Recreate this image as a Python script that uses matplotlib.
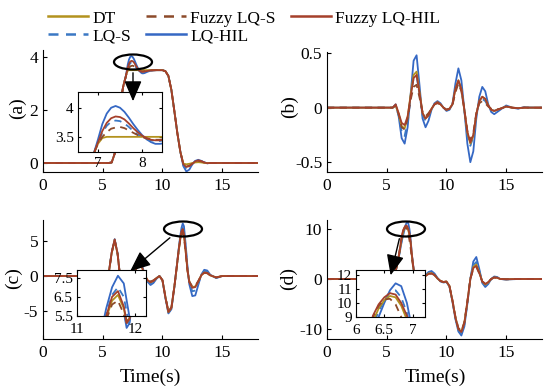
import numpy as np
import matplotlib.pyplot as plt
from matplotlib.patches import Ellipse, FancyArrowPatch
from matplotlib.lines import Line2D

plt.rcParams['font.family'] = ['Liberation Serif', 'DejaVu Serif']
plt.rcParams['axes.unicode_minus'] = False

# ---------------- data ----------------
# (a)
ta = [0, 5.5, 5.75, 6.0, 6.25, 6.5, 6.7, 6.8, 6.9, 7.0, 7.1, 7.2, 7.3, 7.4, 7.5, 7.6,
      7.7, 7.8, 7.9, 8.0, 8.1, 8.2, 8.3, 8.4, 8.5, 8.75, 9.0, 9.5, 10.0, 10.25, 10.5,
      10.75, 11.0, 11.25, 11.5, 11.75, 12.0, 12.25, 12.5, 12.75, 13.0, 13.25, 13.5,
      13.75, 14.0, 15.0, 18.0]
a_lqhil = [0, 0, 0.02, 0.35, 1.25, 2.3, 2.85, 3.05, 3.2,
           3.45, 3.72, 3.9, 4.0, 4.03, 4.0, 3.93, 3.83, 3.72, 3.62, 3.53, 3.46, 3.41, 3.38, 3.38, 3.39,
           3.44, 3.48, 3.5, 3.5, 3.46, 3.28, 2.75, 1.95, 1.12, 0.42, -0.12, -0.32, -0.25, -0.05,
           0.08, 0.12, 0.08, 0.02, -0.01, 0, 0, 0]
a_fhil = [0, 0, 0.02, 0.35, 1.25, 2.3, 2.85, 3.05, 3.2,
          3.4, 3.6, 3.74, 3.82, 3.85, 3.84, 3.8, 3.73, 3.65, 3.58, 3.52, 3.48, 3.45, 3.44, 3.44, 3.45,
          3.47, 3.49, 3.5, 3.5, 3.46, 3.28, 2.75, 1.95, 1.12, 0.42, -0.05, -0.15, -0.12, -0.03,
          0.06, 0.1, 0.07, 0.02, -0.01, 0, 0, 0]
a_lqs = [0, 0, 0.02, 0.35, 1.25, 2.3, 2.85, 3.05, 3.2,
         3.4, 3.57, 3.69, 3.76, 3.78, 3.77, 3.73, 3.67, 3.6, 3.54, 3.5, 3.46, 3.44, 3.43, 3.43, 3.44,
         3.47, 3.49, 3.5, 3.5, 3.46, 3.28, 2.75, 1.95, 1.12, 0.42, -0.08, -0.22, -0.18, -0.04,
         0.07, 0.11, 0.07, 0.02, -0.01, 0, 0, 0]
a_fs = [0, 0, 0.02, 0.35, 1.25, 2.3, 2.85, 3.05, 3.2,
        3.38, 3.5, 3.58, 3.64, 3.66, 3.67, 3.65, 3.61, 3.57, 3.53, 3.5, 3.47, 3.46, 3.45, 3.45, 3.46,
        3.47, 3.49, 3.5, 3.5, 3.46, 3.28, 2.75, 1.95, 1.12, 0.42, -0.05, -0.13, -0.1, -0.03,
        0.05, 0.08, 0.06, 0.02, -0.01, 0, 0, 0]
a_dt = [0, 0, 0.02, 0.35, 1.25, 2.3, 2.85, 3.05, 3.2,
        3.38, 3.48, 3.5, 3.5, 3.5, 3.5, 3.5, 3.5, 3.5, 3.5, 3.5, 3.5, 3.5, 3.5, 3.5, 3.5,
        3.5, 3.5, 3.5, 3.5, 3.46, 3.28, 2.75, 1.95, 1.12, 0.42, -0.02, -0.05, -0.03, 0.0,
        0.02, 0.03, 0.02, 0.0, 0, 0, 0, 0]

# (b)
tb = [0, 5.5, 5.75, 6.0, 6.25, 6.5, 6.75, 7.0, 7.25, 7.5, 7.75, 8.0, 8.25, 8.5, 8.75,
      9.0, 9.25, 9.5, 9.75, 10.0, 10.25, 10.5, 10.75, 11.0, 11.25, 11.5, 11.75, 12.0,
      12.25, 12.5, 12.75, 13.0, 13.25, 13.5, 13.75, 14.0, 14.5, 15.0, 15.5, 16.0, 16.5,
      17.0, 18.0]
b_lqhil = [0, 0, 0.03, -0.08, -0.28, -0.33, -0.18, 0.12, 0.43, 0.48, 0.2, -0.1, -0.18, -0.12,
           -0.02, 0.04, 0.06, 0.04, 0.0, -0.03, -0.02, 0.03, 0.22, 0.36, 0.25, -0.02, -0.33,
           -0.5, -0.4, -0.1, 0.1, 0.19, 0.15, 0.03, -0.04, -0.06, -0.02, 0.02, 0.0, -0.01,
           0.005, 0, 0]
b_fhil = [0, 0, 0.03, -0.05, -0.14, -0.16, -0.08, 0.1, 0.27, 0.3, 0.13, -0.05, -0.1, -0.07,
          -0.01, 0.03, 0.05, 0.03, 0.0, -0.02, -0.01, 0.03, 0.17, 0.25, 0.17, -0.02, -0.22,
          -0.32, -0.25, -0.06, 0.06, 0.1, 0.08, 0.02, -0.02, -0.03, -0.01, 0.01, 0.0, -0.005,
          0.0, 0, 0]
b_dt = [0, 0, 0.02, -0.06, -0.17, -0.19, -0.09, 0.12, 0.3, 0.33, 0.14, -0.05, -0.1, -0.07,
        -0.01, 0.03, 0.05, 0.03, 0.0, -0.02, -0.01, 0.03, 0.17, 0.25, 0.17, -0.02, -0.23,
        -0.33, -0.26, -0.06, 0.06, 0.1, 0.08, 0.02, -0.02, -0.03, -0.01, 0.01, 0.0, -0.005,
        0.0, 0, 0]
b_lqs = [0, 0, 0.02, -0.07, -0.22, -0.26, -0.13, 0.1, 0.27, 0.29, 0.12, -0.07, -0.12, -0.08,
         -0.01, 0.03, 0.05, 0.03, 0.0, -0.02, -0.01, 0.03, 0.16, 0.24, 0.16, -0.03, -0.25,
         -0.35, -0.27, -0.06, 0.05, 0.08, 0.06, 0.01, -0.02, -0.03, -0.01, 0.01, 0.0, -0.005,
         0.0, 0, 0]
b_fs = [0, 0, 0.02, -0.06, -0.18, -0.2, -0.1, 0.07, 0.19, 0.21, 0.09, -0.04, -0.08, -0.05,
        -0.01, 0.03, 0.04, 0.03, 0.0, -0.02, -0.01, 0.02, 0.14, 0.22, 0.15, -0.02, -0.21,
        -0.3, -0.23, -0.05, 0.04, 0.06, 0.04, 0.01, -0.01, -0.02, -0.01, 0.01, 0.0, -0.005,
        0.0, 0, 0]

# (c)
tc = [0, 5.25, 5.5, 5.75, 6.0, 6.25, 6.5, 6.75, 7.0, 7.25, 7.5, 7.75, 8.0, 8.25, 8.5,
      8.75, 9.0, 9.25, 9.5, 9.75, 10.0, 10.25, 10.5, 10.75, 11.0, 11.2, 11.3, 11.4, 11.5,
      11.6, 11.7, 11.8, 11.9, 12.0, 12.1, 12.25, 12.5, 12.75, 13.0, 13.25, 13.5, 13.75,
      14.0, 14.5, 15.0, 16.0, 18.0]
c_lqhil = [0, 0, 0.4, 3.4, 5.3, 3.2, -1.0, -5.0, -7.5, -6.8, -3.0, 1.0, 2.6, 1.8, 0.3, -0.8,
           -1.3, -1.0, -0.4, 0.0, -0.6, -3.2, -5.4, -4.8, -1.6, 1.4, 3.0, 4.5, 5.9, 7.0, 7.6,
           7.2, 5.4, 3.4, 1.2, -1.2, -2.9, -2.8, -1.3, 0.2, 0.9, 0.8, 0.2, -0.3, 0.0, 0, 0]
c_fhil = [0, 0, 0.4, 3.4, 5.3, 3.2, -0.9, -4.6, -6.8, -6.2, -2.8, 0.8, 2.2, 1.5, 0.2, -0.6,
          -0.9, -0.7, -0.3, 0.0, -0.6, -3.1, -5.2, -4.6, -1.5, 1.4, 2.9, 4.3, 5.5, 6.5, 6.8,
          6.0, 4.4, 2.6, 0.8, -0.9, -1.7, -1.6, -0.8, 0.1, 0.5, 0.45, 0.1, -0.2, 0.0, 0, 0]
c_lqs = [0, 0, 0.4, 3.4, 5.3, 3.2, -0.9, -4.8, -7.1, -6.5, -2.9, 0.9, 2.4, 1.6, 0.2, -0.7,
         -1.1, -0.8, -0.3, 0.0, -0.6, -3.1, -5.3, -4.7, -1.5, 1.4, 2.9, 4.4, 5.6, 6.6, 7.0,
         6.5, 4.9, 3.0, 1.0, -1.0, -2.2, -2.1, -1.0, 0.1, 0.7, 0.6, 0.15, -0.25, 0.0, 0, 0]
c_fs = [0, 0, 0.4, 3.3, 5.2, 3.1, -0.8, -4.4, -6.5, -5.9, -2.6, 0.7, 2.0, 1.4, 0.2, -0.5,
        -0.8, -0.6, -0.3, 0.0, -0.6, -3.0, -5.1, -4.5, -1.5, 1.3, 2.8, 4.1, 5.3, 6.1, 6.3,
        5.6, 4.1, 2.4, 0.7, -0.8, -1.5, -1.4, -0.7, 0.1, 0.45, 0.4, 0.1, -0.2, 0.0, 0, 0]
c_dt = [0, 0, 0.4, 3.3, 5.2, 3.1, -0.8, -4.5, -6.7, -6.0, -2.7, 0.8, 2.1, 1.4, 0.2, -0.6,
        -0.9, -0.7, -0.3, 0.0, -0.6, -3.0, -5.2, -4.6, -1.5, 1.3, 2.8, 4.2, 5.4, 6.3, 6.6,
        5.9, 4.3, 2.5, 0.8, -0.8, -1.6, -1.5, -0.8, 0.1, 0.5, 0.45, 0.1, -0.2, 0.0, 0, 0]

# (d)
td = [0, 5.25, 5.5, 5.75, 6.0, 6.1, 6.2, 6.3, 6.4, 6.5, 6.6, 6.7, 6.8, 6.9, 7.0, 7.1,
      7.25, 7.5, 7.75, 8.0, 8.25, 8.5, 8.75, 9.0, 9.25, 9.5, 9.75, 10.0, 10.25, 10.5,
      10.75, 11.0, 11.25, 11.5, 11.75, 12.0, 12.25, 12.5, 12.75, 13.0, 13.25, 13.5,
      13.75, 14.0, 14.25, 14.5, 15.0, 16.0, 18.0]
d_lqhil = [0, 0, 0.3, 1.5, 4.2, 5.5, 6.8, 8.0, 9.0, 10.0, 10.9, 11.4, 11.2, 10.0, 8.0, 5.0,
           2.0, -0.5, -0.8, 0.0, 0.8, 1.4, 1.6, 1.1, 0.2, -0.5, -0.7, -0.6, -1.5, -4.5, -8.0,
           -10.5, -11.3, -9.5, -5.0, 0.0, 3.5, 4.4, 2.0, -0.8, -1.6, -1.0, 0.0, 0.5, 0.4, 0.0,
           -0.1, 0, 0]
d_fhil = [0, 0, 0.3, 1.6, 4.5, 5.9, 7.6, 9.1, 9.9, 10.4, 10.7, 10.6, 10.0, 9.1, 7.5, 5.0,
          2.0, -0.3, -0.6, 0.0, 0.6, 1.0, 1.1, 0.8, 0.1, -0.4, -0.6, -0.5, -1.4, -4.3, -7.7,
          -10.0, -10.6, -8.8, -4.6, 0.0, 2.2, 2.6, 1.2, -0.5, -1.0, -0.6, 0.0, 0.3, 0.25, 0.0,
          -0.05, 0, 0]
d_lqs = [0, 0, 0.3, 1.5, 4.3, 5.7, 7.1, 8.4, 9.4, 10.2, 10.8, 10.9, 10.4, 9.3, 7.5, 4.8,
         1.9, -0.4, -0.7, 0.0, 0.7, 1.2, 1.3, 0.9, 0.15, -0.45, -0.65, -0.55, -1.45, -4.4,
         -7.8, -10.2, -10.9, -9.1, -4.8, 0.0, 2.8, 3.4, 1.6, -0.6, -1.3, -0.8, 0.0, 0.4, 0.3,
         0.0, -0.08, 0, 0]
d_fs = [0, 0, 0.3, 1.6, 4.6, 6.1, 7.7, 9.0, 9.8, 10.25, 10.3, 9.9, 9.0, 7.8, 6.2, 4.2,
        1.8, -0.3, -0.6, 0.0, 0.6, 1.0, 1.1, 0.8, 0.1, -0.4, -0.6, -0.5, -1.4, -4.2, -7.5,
        -9.8, -10.4, -8.6, -4.5, 0.0, 2.0, 2.4, 1.1, -0.5, -0.9, -0.5, 0.0, 0.3, 0.2, 0.0,
        -0.05, 0, 0]
d_dt = [0, 0, 0.3, 1.5, 4.4, 5.8, 7.3, 8.7, 9.6, 10.2, 10.5, 10.4, 9.8, 8.8, 7.2, 4.7,
        1.9, -0.3, -0.6, 0.0, 0.6, 1.1, 1.2, 0.8, 0.1, -0.4, -0.6, -0.5, -1.4, -4.3, -7.6,
        -10.0, -10.5, -8.7, -4.6, 0.0, 2.4, 2.9, 1.3, -0.5, -1.1, -0.7, 0.0, 0.3, 0.25, 0.0,
        -0.05, 0, 0]

# series styles, drawing order (fuzzy curves end up on top)
order = ['LQ-HIL', 'LQ-S', 'DT', 'Fuzzy LQ-S', 'Fuzzy LQ-HIL']
colors = {'DT': '#b3921e', 'LQ-S': '#3b78c4', 'LQ-HIL': '#3568c4',
          'Fuzzy LQ-S': '#8c4a2a', 'Fuzzy LQ-HIL': '#a5402b'}
dashed = {'DT': False, 'LQ-S': True, 'LQ-HIL': False, 'Fuzzy LQ-S': True, 'Fuzzy LQ-HIL': False}

panels = {
    'a': (ta, {'DT': a_dt, 'LQ-S': a_lqs, 'LQ-HIL': a_lqhil, 'Fuzzy LQ-S': a_fs, 'Fuzzy LQ-HIL': a_fhil}),
    'b': (tb, {'DT': b_dt, 'LQ-S': b_lqs, 'LQ-HIL': b_lqhil, 'Fuzzy LQ-S': b_fs, 'Fuzzy LQ-HIL': b_fhil}),
    'c': (tc, {'DT': c_dt, 'LQ-S': c_lqs, 'LQ-HIL': c_lqhil, 'Fuzzy LQ-S': c_fs, 'Fuzzy LQ-HIL': c_fhil}),
    'd': (td, {'DT': d_dt, 'LQ-S': d_lqs, 'LQ-HIL': d_lqhil, 'Fuzzy LQ-S': d_fs, 'Fuzzy LQ-HIL': d_fhil}),
}

W, H = 550, 392
fig = plt.figure(figsize=(W / 100, H / 100), dpi=100)


def px_axes(l, t, r, b):
    return fig.add_axes([l / W, 1 - b / H, (r - l) / W, (b - t) / H])


def draw_lines(ax, key):
    t, ser = panels[key]
    for name in order:
        ls = (0, (4, 3)) if dashed[name] else '-'
        ax.plot(t, ser[name], color=colors[name], ls=ls, lw=1.3)


def fmt(v, pos):
    return '%g' % v


main_box = {'a': (43, 50, 258, 172), 'b': (327, 52, 542, 172),
            'c': (43, 220, 258, 339), 'd': (327, 220, 542, 339)}
main_ylim = {'a': (-0.34, 4.26), 'b': (-0.59, 0.51), 'c': (-9.1, 8.1), 'd': (-12, 11.8)}
main_yticks = {'a': [0, 2, 4], 'b': [-0.5, 0, 0.5], 'c': [-5, 0, 5], 'd': [-10, 0, 10]}

for key in 'abcd':
    ax = px_axes(*main_box[key])
    draw_lines(ax, key)
    ax.set_xlim(0, 18)
    ax.set_ylim(*main_ylim[key])
    ax.set_xticks([0, 5, 10, 15])
    ax.set_yticks(main_yticks[key])
    ax.yaxis.set_major_formatter(plt.FuncFormatter(fmt))
    for s in ['top', 'right']:
        ax.spines[s].set_visible(False)
    for s in ['left', 'bottom']:
        ax.spines[s].set_linewidth(0.8)
    ax.tick_params(direction='in', length=3, width=0.8, labelsize=12.5)
    ax.tick_params(axis='x', pad=4.5)
    ax.tick_params(axis='y', pad=3.5)

# insets
inset_box = {'a': (78, 92, 162, 152), 'c': (77, 270, 146, 316), 'd': (356, 270, 425, 317)}
inset_xlim = {'a': (6.55, 8.45), 'c': (11, 12.18), 'd': (6, 7.22)}
inset_ylim = {'a': (3.24, 4.27), 'c': (5.5, 7.9), 'd': (9, 12.35)}
inset_xticks = {'a': [7, 8], 'c': [11, 12], 'd': [6, 6.5, 7]}
inset_yticks = {'a': [3.5, 4], 'c': [5.5, 6.5, 7.5], 'd': [9, 10, 11, 12]}
inset_xpad = {'a': 3.5, 'c': 5, 'd': 5}

for key in 'acd':
    ax = px_axes(*inset_box[key])
    ax.set_facecolor('white')
    draw_lines(ax, key)
    ax.set_xlim(*inset_xlim[key])
    ax.set_ylim(*inset_ylim[key])
    ax.set_xticks(inset_xticks[key])
    ax.set_yticks(inset_yticks[key])
    ax.xaxis.set_major_formatter(plt.FuncFormatter(fmt))
    ax.yaxis.set_major_formatter(plt.FuncFormatter(fmt))
    for s in ax.spines.values():
        s.set_linewidth(0.8)
    ax.tick_params(direction='in', top=True, right=True, length=2.5, width=0.8,
                   labelsize=11)
    ax.tick_params(axis='x', pad=inset_xpad[key])
    ax.tick_params(axis='y', pad=3)

# ellipses and arrows marking the zoomed regions
def fig_pt(x, y):
    return (x / W, 1 - y / H)


for cx, cy in [(133, 62), (183, 229), (406, 229)]:
    fig.add_artist(Ellipse(fig_pt(cx, cy), 38 / W, 15 / H, transform=fig.transFigure,
                           fill=False, ec='black', lw=1.6))

for (x0, y0), (x1, y1) in [((133, 70), (133, 104)), ((172, 236), (128, 273)),
                           ((400, 236), (390, 278))]:
    fig.add_artist(FancyArrowPatch(fig_pt(x0, y0), fig_pt(x1, y1), transform=fig.transFigure,
                                   arrowstyle='-|>,head_length=0.7,head_width=0.3',
                                   mutation_scale=18, color='black', lw=1.0))

# panel labels and axis titles
for lab, x, y in [('(a)', 17, 108), ('(b)', 289, 107), ('(c)', 13, 278), ('(d)', 288, 279)]:
    fig.text(x / W, 1 - y / H, lab, rotation=90, ha='center', va='center', fontsize=14)
fig.text(150 / W, 1 - 377 / H, 'Time(s)', ha='center', va='center', fontsize=14)
fig.text(435 / W, 1 - 377 / H, 'Time(s)', ha='center', va='center', fontsize=14)

# legend
leg_names = ['DT', 'LQ-S', 'Fuzzy LQ-S', 'LQ-HIL', 'Fuzzy LQ-HIL']
handles = [Line2D([], [], color=colors[n], lw=1.8, ls=(0, (4, 3)) if dashed[n] else '-')
           for n in leg_names]
fig.legend(handles, leg_names, ncol=3, loc='upper left', bbox_to_anchor=(38 / W, 1.0),
           frameon=False, fontsize=12.5, handlelength=2.3, handletextpad=0.25,
           columnspacing=0.85, borderpad=0.1, labelspacing=0.1)

fig.savefig('out.png', dpi=100)
